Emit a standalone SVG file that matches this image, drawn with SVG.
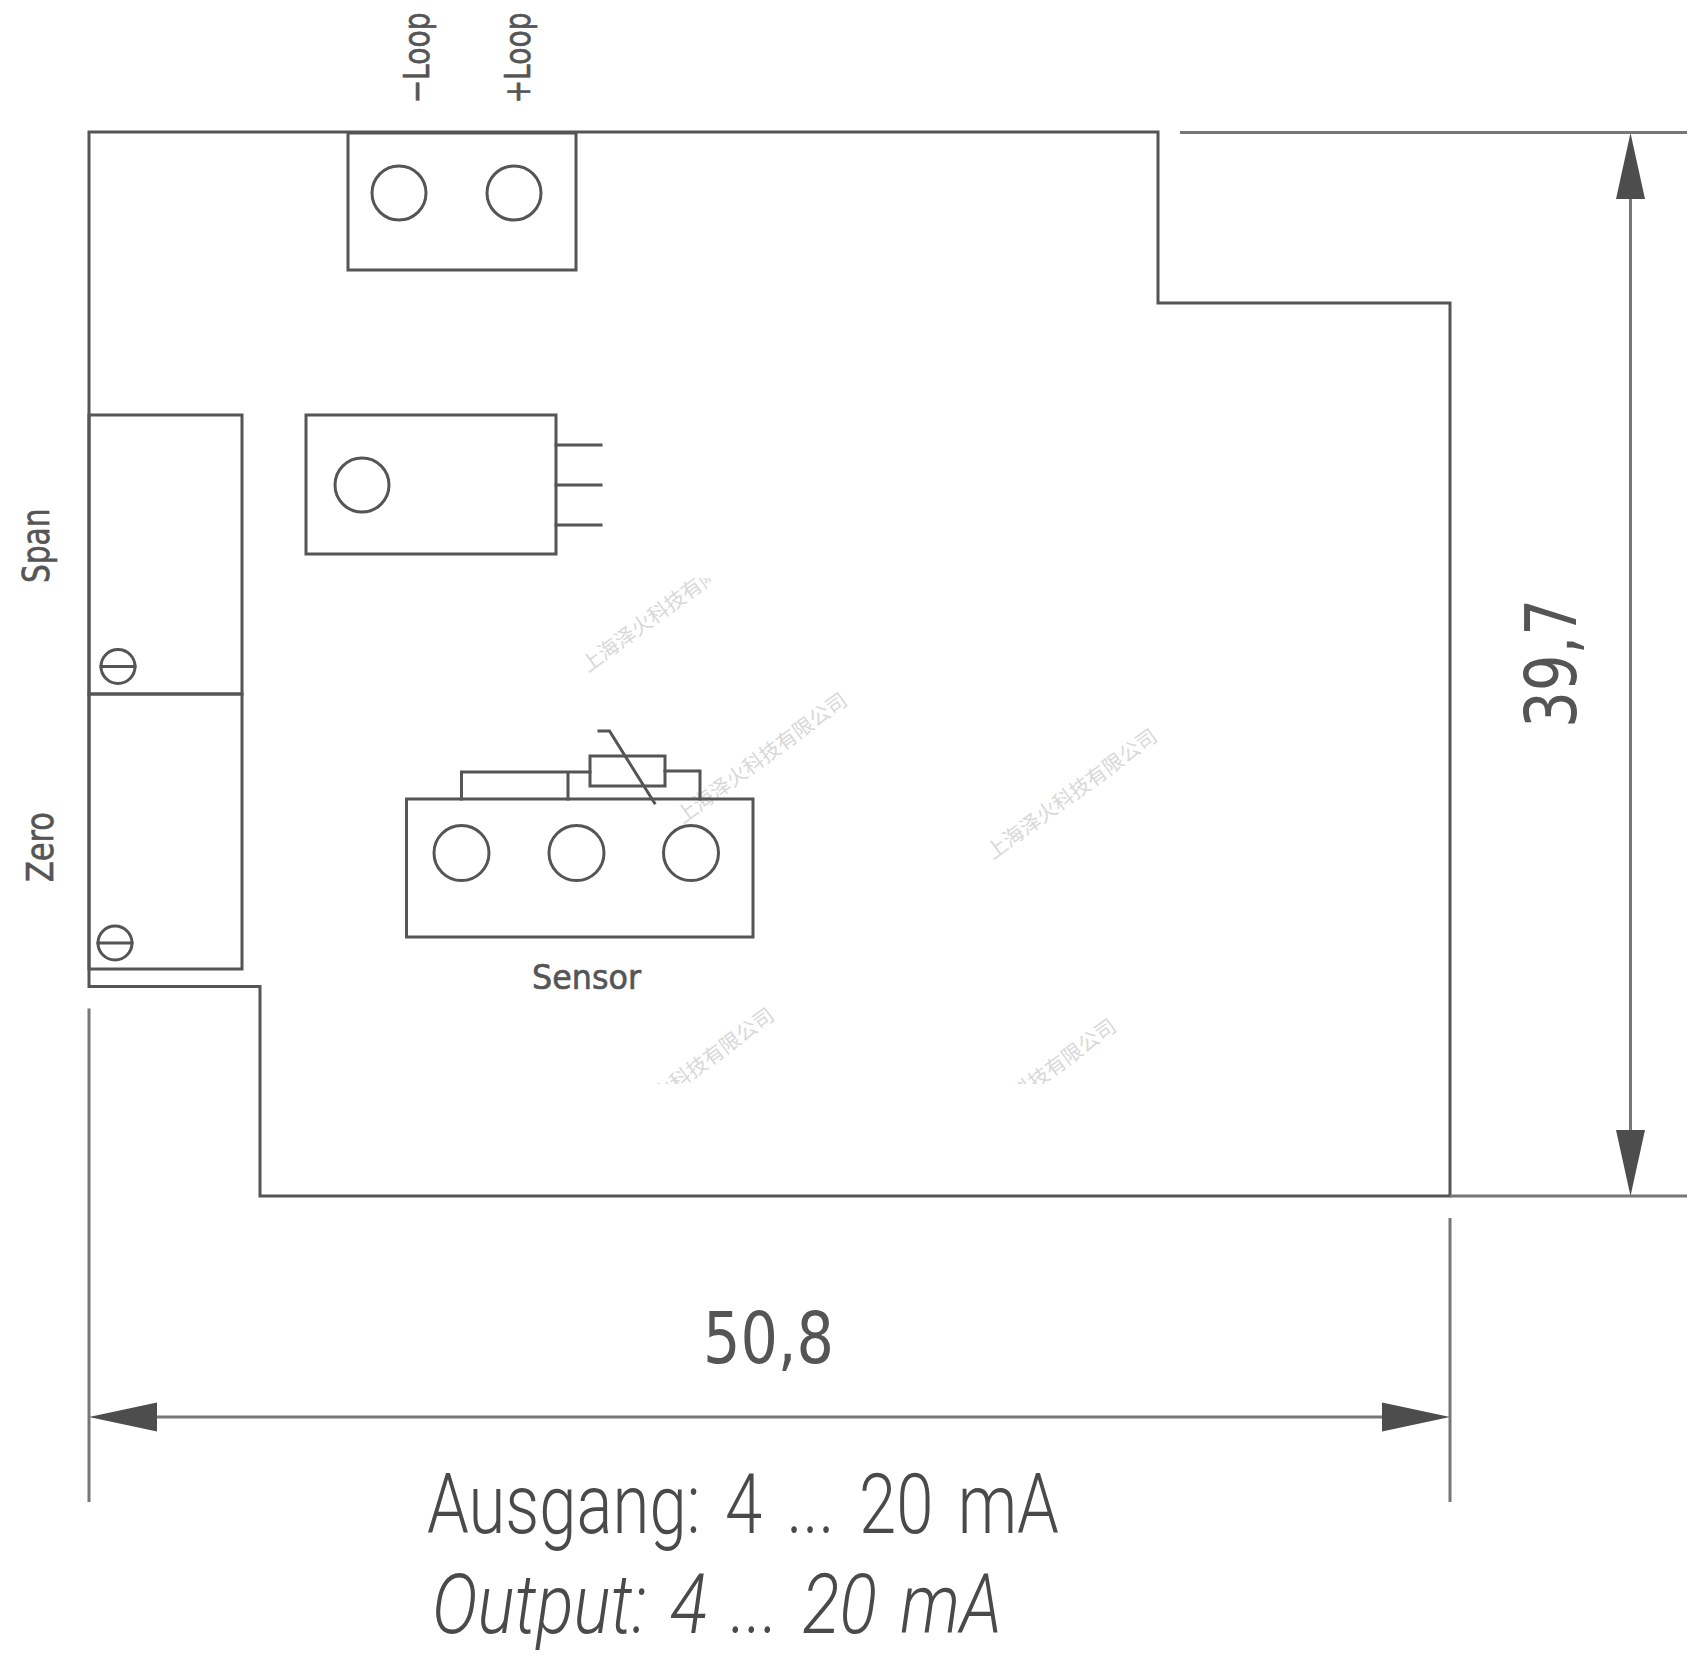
<svg xmlns="http://www.w3.org/2000/svg" width="1708" height="1664" viewBox="0 0 1708 1664">
<defs>
<style>
.l{fill:none;stroke:#555;stroke-width:3;stroke-linecap:square}
.d{fill:none;stroke:#777;stroke-width:3}
.a{fill:#4d4d4d;stroke:none}
.t{fill:#555;font-family:"DejaVu Sans Condensed","DejaVu Sans",sans-serif}
.h{stroke:#555;stroke-width:.6}
.b{fill:#4a4a4a;font-family:Roboto,"Liberation Sans",sans-serif;font-weight:300}
.w{fill:#d8d8d8;font-family:"Noto Sans CJK SC",sans-serif;font-size:20.500px}
</style>
<clipPath id="c1"><rect x="560" y="578" width="151" height="130"/></clipPath>
<clipPath id="c2"><rect x="600" y="1000" width="200" height="84"/></clipPath>
<clipPath id="c3"><rect x="940" y="1000" width="200" height="84"/></clipPath>
</defs>
<rect width="1708" height="1664" fill="#fff"/>
<g id="watermarks">
<g clip-path="url(#c1)"><text class="w" transform="translate(588,673) rotate(-36)">上海泽火科技有限公司</text></g>
<text class="w" transform="translate(683,824) rotate(-36)">上海泽火科技有限公司</text>
<text class="w" transform="translate(993,860) rotate(-36)">上海泽火科技有限公司</text>
<g clip-path="url(#c2)"><text class="w" transform="translate(610,1139) rotate(-36)">上海泽火科技有限公司</text></g>
<g clip-path="url(#c3)"><text class="w" transform="translate(952,1150) rotate(-36)">上海泽火科技有限公司</text></g>
</g>
<g id="board"><path class="l" d="M89 415V132H1158V303H1450V1196H260V986.500H89V415"/></g>
<g id="terminal-loop"><rect class="l" x="348" y="133" width="228" height="137"/><circle class="l" cx="399" cy="193" r="27"/><circle class="l" cx="514" cy="193" r="27"/></g>
<g id="transistor"><rect class="l" x="306" y="415" width="250" height="139"/><circle class="l" cx="362" cy="485" r="27"/><path class="l" d="M556 445H601M556 485H601M556 525H601"/></g>
<g id="span-pot"><rect class="l" x="89" y="415" width="153" height="279"/><circle class="l" cx="118" cy="666.500" r="17"/><path class="l" d="M101 666.500H135"/></g>
<g id="zero-pot"><rect class="l" x="89" y="694" width="153" height="275"/><circle class="l" cx="115" cy="943" r="17"/><path class="l" d="M98 943H132"/></g>
<g id="sensor"><rect class="l" x="406.500" y="799" width="346.500" height="138"/><circle class="l" cx="461.500" cy="853" r="27.500"/><circle class="l" cx="576.500" cy="853" r="27.500"/><circle class="l" cx="691" cy="853" r="27.500"/><path class="l" d="M461.500 799V772H590M568 772V799M665 771H700V799"/><rect class="l" x="590" y="756" width="75" height="30"/><path class="l" d="M599 731H609.500L654.500 803"/></g>
<g id="connectors">
<path class="d" d="M1180 132.500H1687M1450 1196H1687M1630.500 180V1150M89 1008.500V1502M1450 1218V1502M140 1417H1400"/>
<polygon class="a" points="1630.500,133 1645,199 1616,199"/><polygon class="a" points="1630.500,1196 1645,1130 1616,1130"/>
<polygon class="a" points="89,1417 157,1402.500 157,1431.500"/><polygon class="a" points="1450,1417 1382,1402.500 1382,1431.500"/>
</g>
<g id="labels">
<text class="t h" font-size="36" transform="translate(428.600,103.500) rotate(-90)" textLength="91" lengthAdjust="spacingAndGlyphs">−Loop</text>
<text class="t h" font-size="36" transform="translate(530,103.500) rotate(-90)" textLength="91" lengthAdjust="spacingAndGlyphs">+Loop</text>
<text class="t h" font-size="37" transform="translate(49,583) rotate(-90)" textLength="74.500" lengthAdjust="spacingAndGlyphs">Span</text>
<text class="t h" font-size="37" transform="translate(53,882) rotate(-90)" textLength="70" lengthAdjust="spacingAndGlyphs">Zero</text>
<text class="t h" font-size="34" x="532" y="988.500" textLength="109" lengthAdjust="spacingAndGlyphs">Sensor</text>
<text class="t" font-size="72" x="703" y="1363" textLength="131" lengthAdjust="spacingAndGlyphs">50,8</text>
<text class="t" font-size="72" transform="translate(1575.700,728) rotate(-90)" textLength="129" lengthAdjust="spacingAndGlyphs">39,7</text>
<text class="b" font-size="84" x="427" y="1533" textLength="632" lengthAdjust="spacingAndGlyphs" word-spacing="10">Ausgang: 4 ... 20 mA</text>
<text class="b" font-size="84" font-style="italic" x="432" y="1633" textLength="570" lengthAdjust="spacingAndGlyphs" word-spacing="8">Output: 4 ... 20 mA</text>
</g>
</svg>
